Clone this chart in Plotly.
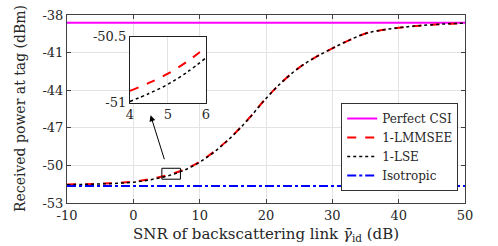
import plotly.graph_objects as go

# ---- data ----
snr_db = [-10, -7.5, -5, -2.5, 0, 2.5, 5, 7.5, 10, 12.5, 15, 17.5, 20, 22.5, 25,
          27.5, 30, 32.5, 35, 37.5, 40, 42.5, 45, 47.5, 50]
perfect_csi = [-38.62] * len(snr_db)
lmmsee = [-51.52, -51.5, -51.46, -51.4, -51.3, -51.1, -50.8, -50.37, -49.7, -48.77,
          -47.6, -46.2, -44.65, -43.3, -42.2, -41.36, -40.66, -40.02, -39.48, -39.2,
          -39.02, -38.88, -38.78, -38.7, -38.65]
lse = [-51.54, -51.52, -51.48, -51.43, -51.34, -51.15, -50.86, -50.42, -49.74, -48.8,
       -47.62, -46.21, -44.66, -43.3, -42.2, -41.36, -40.66, -40.02, -39.48, -39.2,
       -39.02, -38.88, -38.78, -38.7, -38.65]
isotropic = [-51.65] * len(snr_db)

inset_snr = [4, 4.5, 5, 5.5, 6]
inset_lmmsee = [-50.91, -50.85, -50.78, -50.69, -50.58]
inset_lse = [-50.99, -50.93, -50.86, -50.77, -50.66]

x_ticks = [-10, 0, 10, 20, 30, 40, 50]
x_ticktext = ["-10", "0", "10", "20", "30", "40", "50"]
y_ticks = [-53, -50, -47, -44, -41, -38]
y_ticktext = ["-53", "-50", "-47", "-44", "-41", "-38"]
inset_xticks = [4, 5, 6]
inset_yticks = [-51, -50.5]
inset_yticktext = ["-51", "-50.5"]

FONT = "DejaVu Serif, Liberation Serif, serif"
FRAME = "#404040"
GRID = "#e3e3e3"
TXT = "#262626"

fig = go.Figure()
fig.add_trace(go.Scatter(x=snr_db, y=perfect_csi, mode="lines", name="Perfect CSI",
                         line=dict(color="#ff00ff", width=2)))
fig.add_trace(go.Scatter(x=snr_db, y=lmmsee, mode="lines", name="1-LMMSEE",
                         line=dict(color="#ff0000", width=2, dash="dash", shape="spline")))
fig.add_trace(go.Scatter(x=snr_db, y=lse, mode="lines", name="1-LSE",
                         line=dict(color="#000000", width=1.5, dash="dot", shape="spline")))
fig.add_trace(go.Scatter(x=snr_db, y=isotropic, mode="lines", name="Isotropic",
                         line=dict(color="#0000ff", width=2, dash="dashdot")))

# inset
fig.add_trace(go.Scatter(x=inset_snr, y=inset_lmmsee, mode="lines", showlegend=False,
                         xaxis="x2", yaxis="y2",
                         line=dict(color="#ff0000", width=2, dash="dash", shape="spline")))
fig.add_trace(go.Scatter(x=inset_snr, y=inset_lse, mode="lines", showlegend=False,
                         xaxis="x2", yaxis="y2",
                         line=dict(color="#000000", width=1.5, dash="dot", shape="spline")))

fig.add_shape(type="rect", xref="x", yref="y", x0=4.3, x1=7.1, y0=-51.1, y1=-50.23,
              line=dict(color="#000000", width=1))
fig.add_annotation(x=2.6, y=-46.0, ax=5.1, ay=-50.23, xref="x", yref="y",
                   axref="x", ayref="y", showarrow=True, arrowhead=2, arrowsize=1.2,
                   arrowwidth=1, arrowcolor="#000000", text=" ")

# axis titles
fig.add_annotation(text="SNR of backscattering link <i>γ̄</i><sub>id</sub> (dB)",
                   xref="paper", yref="paper", x=0.5, y=-0.17, xanchor="center",
                   yanchor="middle", showarrow=False,
                   font=dict(family=FONT, size=15, color=TXT))
fig.add_annotation(text="Received power at tag (dBm)", textangle=-90,
                   xref="paper", yref="paper", x=-0.118, y=0.5, xanchor="center",
                   yanchor="middle", showarrow=False,
                   font=dict(family=FONT, size=14, color=TXT))

axis_common = dict(showline=True, mirror="ticks", linecolor=FRAME, linewidth=1,
                   ticks="inside", ticklen=4, tickcolor=FRAME, showgrid=True,
                   gridcolor=GRID, zeroline=False, automargin=False,
                   ticklabeloverflow="allow",
                   tickfont=dict(family=FONT, size=13, color=TXT))

fig.update_layout(
    width=498, height=246,
    margin=dict(l=67, r=33, t=15, b=43),
    paper_bgcolor="white", plot_bgcolor="white",
    font=dict(family=FONT, size=13, color=TXT),
    xaxis=dict(range=[-10, 50], tickvals=x_ticks, ticktext=x_ticktext, **axis_common),
    yaxis=dict(range=[-53, -38], tickvals=y_ticks, ticktext=y_ticktext, **axis_common),
    xaxis2=dict(domain=[0.158, 0.349], anchor="y2", range=[4, 6], tickvals=inset_xticks,
                showline=True, mirror=True, linecolor="#202020", linewidth=1,
                ticks="", showgrid=True, gridcolor=GRID, zeroline=False, automargin=False,
                tickfont=dict(family=FONT, size=13, color=TXT)),
    yaxis2=dict(domain=[0.533, 0.885], anchor="x2", range=[-51, -50.5],
                tickvals=inset_yticks, ticktext=inset_yticktext,
                showline=True, mirror=True, linecolor="#202020", linewidth=1,
                ticks="", showgrid=False, zeroline=False, automargin=False,
                tickfont=dict(family=FONT, size=13, color=TXT)),
    legend=dict(x=0.689, y=0.532, xanchor="left", yanchor="top",
                bgcolor="white", bordercolor="#333333", borderwidth=1,
                font=dict(family=FONT, size=12, color=TXT),
                tracegroupgap=0, itemwidth=30),
    showlegend=True,
)

# remove the default 8px page margin so the figure fills the window
fig.write_html("out.html", config={"displayModeBar": False},
               post_script="document.body.style.margin='0';document.body.style.overflow='hidden';")
